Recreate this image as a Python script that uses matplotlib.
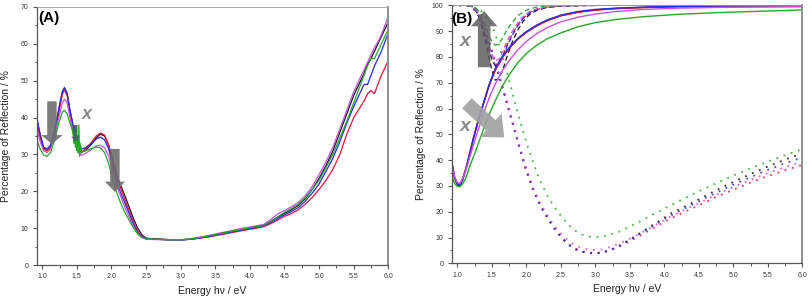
import matplotlib
matplotlib.use("Agg")
import matplotlib.pyplot as plt
from matplotlib.ticker import MultipleLocator

plt.rcParams["font.family"] = ["Liberation Sans", "DejaVu Sans"]

# ---------------------------------------------------------------------------
# Panel A: measured reflection spectra
# ---------------------------------------------------------------------------
xa = [0.92, 0.97, 1.02, 1.07, 1.12, 1.18, 1.24, 1.29, 1.32, 1.36,
      1.40, 1.43, 1.45, 1.46, 1.47, 1.48, 1.49, 1.50, 1.51, 1.52,
      1.53, 1.54, 1.55, 1.57, 1.62, 1.70, 1.78, 1.84, 1.90, 1.96,
      2.02, 2.08, 2.14, 2.20, 2.26, 2.32, 2.38, 2.44, 2.50, 2.60,
      2.75, 2.90, 3.05, 3.20, 3.40, 3.60, 3.80, 4.00, 4.20, 4.30,
      4.40, 4.50, 4.60, 4.70, 4.80, 4.90, 5.00, 5.10, 5.20, 5.30,
      5.40, 5.50, 5.60, 5.65, 5.70, 5.75, 5.80, 5.85, 5.90, 6.00]

ya_black = [40, 35, 31.8, 31, 32, 36, 42, 46.8, 48, 46.5,
            42, 39, 37, 35.5, 37, 34.5, 35.5, 33.5, 34.5, 32,
            33, 31, 31.5, 30.8, 31, 32.5, 34.5, 35.5, 35, 32.5,
            28.5, 24, 21.3, 18.5, 15.5, 12.5, 10, 8.2, 7.3, 7.1,
            7.0, 6.8, 6.9, 7.2, 7.8, 8.6, 9.3, 10.0, 10.8, 11.8,
            13.0, 14.0, 15.0, 16.2, 18.0, 20.5, 23.5, 27, 31, 36,
            41, 46, 50, 52, 54.5, 56, 58, 60, 62, 66]
ya_red = [39, 34.5, 31.5, 31, 32, 35.5, 41.5, 46.3, 47.5, 46,
          41.5, 38.5, 36.5, 35, 36, 34, 34.5, 33, 33.5, 31.5,
          32, 30.5, 31, 30.5, 31.5, 33, 35, 35.8, 35.3, 32.5,
          27.5, 23.3, 20.5, 17.5, 14.5, 11.5, 9.2, 7.8, 7.2, 7.0,
          6.9, 6.8, 6.9, 7.1, 7.6, 8.3, 9.0, 9.7, 10.4, 11.2,
          12.2, 13.2, 14.0, 15.0, 16.5, 18.3, 20.5, 23.0, 26.0, 30.0,
          35.5, 40, 43, 44.5, 46.5, 47.3, 46.5, 49, 51.5, 55.5]
ya_blue = [40, 35.5, 32, 31.5, 32.5, 36.5, 42.5, 47, 48.2, 46.5,
           42, 39.5, 37.5, 36, 37.5, 35, 36, 34, 35, 32.5,
           33.5, 31.5, 32, 31.5, 31.8, 32.8, 34.2, 34.7, 34, 31.5,
           26.5, 22.3, 19.3, 16.5, 13.8, 11, 8.8, 7.6, 7.1, 7.0,
           6.9, 6.7, 6.8, 7.1, 7.7, 8.5, 9.2, 9.9, 10.6, 11.5,
           12.6, 13.6, 14.5, 15.6, 17.3, 19.5, 22, 25.5, 29, 33.5,
           38.5, 43, 47, 49, 49, 51.5, 54, 56, 58, 63]
ya_magenta = [37, 33.5, 31, 30.5, 31.5, 35, 40, 44, 45, 44,
              40, 37.5, 35.5, 34, 35.5, 33, 34, 32, 33, 30.5,
              31.5, 29.5, 30.5, 29.8, 30.2, 31.2, 32.3, 32.5, 31.8, 29.5,
              25, 21.3, 18.3, 15.3, 12.8, 10.3, 8.4, 7.4, 7.0, 6.9,
              6.9, 6.8, 6.9, 7.3, 8.0, 8.8, 9.6, 10.3, 11.0, 12.3,
              13.8, 14.8, 15.8, 17.0, 18.8, 21.3, 24.5, 28, 32, 37,
              42, 47, 51, 53, 55, 57, 59, 60.5, 62.5, 67.5]
ya_green = [34, 31.5, 29.8, 29.5, 30.5, 34, 38.5, 41.5, 42, 41,
            38.5, 37, 35, 33, 36, 32, 37, 31, 35, 30.5,
            38, 30, 33, 30.5, 31, 31.5, 32, 31.8, 30.5, 27.5,
            23, 19.5, 16.5, 14, 12, 10, 8.5, 7.5, 7.1, 7.0,
            6.9, 6.8, 6.9, 7.2, 7.9, 8.7, 9.4, 10.1, 10.8, 11.8,
            13.0, 14.3, 15.3, 16.5, 18.3, 20.5, 23, 26.5, 30, 34.5,
            39, 44, 49, 51.5, 54, 56, 56, 58, 60, 64]

# ---------------------------------------------------------------------------
# Panel B: simulated reflection (solid / dashed / dotted families)
# ---------------------------------------------------------------------------
xb_solid = [0.92, 0.96, 1.00, 1.04, 1.08, 1.13, 1.18, 1.23, 1.30, 1.38,
            1.46, 1.55, 1.65, 1.75, 1.87, 2.00, 2.15, 2.30, 2.50, 2.75,
            3.00, 3.30, 3.70, 4.20, 4.80, 5.40, 6.00]
yb_solid_black = [39, 33, 30.5, 30, 32.5, 37, 42.5, 48, 55, 62,
                  69, 75, 79.8, 83.3, 86.8, 89.6, 92.1, 94.1, 96.0, 97.4,
                  98.2, 98.8, 99.2, 99.5, 99.7, 99.8, 99.9]
yb_solid_red = [39.5, 33.5, 31, 30.8, 33, 37.3, 42.5, 47.8, 54.8, 61.8,
                68.8, 74.8, 79.6, 83.2, 86.7, 89.5, 92.0, 94.0, 95.9, 97.3,
                98.1, 98.7, 99.1, 99.4, 99.6, 99.7, 99.8]
yb_solid_blue = [39.5, 33.5, 30.6, 30.2, 32.5, 37, 42.5, 48, 55, 62,
                 69, 75.5, 80, 83.5, 87, 89.8, 92.3, 94.3, 96.2, 97.6,
                 98.4, 98.9, 99.3, 99.6, 99.7, 99.8, 99.9]
yb_solid_magenta = [38, 33.5, 31.2, 31, 33, 36.5, 41, 45.5, 51.5, 58,
                    64, 69.5, 74.5, 78.5, 82.5, 86, 89, 91.3, 93.6, 95.4,
                    96.6, 97.6, 98.4, 98.9, 99.2, 99.3, 99.4]
yb_solid_green = [34, 31, 29.8, 29.7, 30.8, 33.5, 37.5, 41, 46, 52,
                  57.5, 63, 68.5, 73, 77.5, 81.3, 84.5, 87, 89.3, 91.7,
                  93.3, 94.5, 95.6, 96.5, 97.2, 97.7, 98.2]

xb_dash = [0.92, 1.10, 1.20, 1.26, 1.32, 1.38, 1.44, 1.50, 1.55, 1.60,
           1.66, 1.72, 1.80, 1.88, 1.96, 2.05, 2.15, 2.30, 2.50, 2.80,
           3.20, 4.00, 5.00, 6.00]
yb_dash_black = [100, 100, 99.8, 98.5, 95, 89, 82, 75, 71, 71.5,
                 75, 80, 86, 90.5, 94, 96.5, 98, 99.2, 99.7, 99.9,
                 100, 100, 100, 100]
yb_dash_red = [100, 100, 99.8, 98.8, 96, 91, 85, 79.5, 77, 77.5,
               80.5, 84.5, 89, 92.5, 95.2, 97.2, 98.4, 99.3, 99.7, 99.9,
               100, 100, 100, 100]
yb_dash_blue = [100, 100, 99.8, 98.7, 95.8, 90.5, 84.5, 79, 76.5, 77,
                80, 84, 88.5, 92.2, 95, 97, 98.3, 99.2, 99.7, 99.9,
                100, 100, 100, 100]
yb_dash_magenta = [100, 100, 99.8, 98.8, 96.2, 91.5, 86, 81, 78.5, 79,
                   82, 86, 90, 93.3, 95.8, 97.6, 98.6, 99.4, 99.8, 99.9,
                   100, 100, 100, 100]
yb_dash_green = [100, 100, 99.9, 99.2, 97.5, 94, 89.5, 86, 84.5, 85,
                 87.5, 90.5, 93.5, 96, 97.5, 98.6, 99.3, 99.7, 99.9, 100,
                 100, 100, 100, 100]

xb_dot = [0.92, 1.10, 1.20, 1.28, 1.36, 1.44, 1.52, 1.60, 1.70, 1.80,
          1.90, 2.00, 2.10, 2.20, 2.30, 2.40, 2.50, 2.60, 2.70, 2.80,
          2.90, 3.00, 3.10, 3.20, 3.35, 3.50, 3.70, 3.90, 4.10, 4.30,
          4.50, 4.75, 5.00, 5.25, 5.50, 5.75, 6.00]
yb_dot_black = [100, 100, 99.5, 97.5, 93.5, 87.5, 80.5, 73, 64, 54.5,
                45, 36, 28.5, 22.5, 18, 13.8, 10.3, 7.5, 5.6, 4.5,
                4.0, 3.9, 4.2, 5.0, 6.8, 9.2, 12.6, 16, 19.4, 22,
                24.8, 28.3, 31.5, 34.6, 37.5, 40.2, 42.6]
yb_dot_red = [100, 100, 99.5, 97.5, 93.5, 87.5, 80.5, 73, 64, 54.5,
              45, 36, 28.5, 22.5, 18, 13.8, 10.4, 7.7, 5.8, 4.7,
              4.2, 4.0, 4.2, 4.9, 6.5, 8.5, 11.5, 14.5, 17.5, 20,
              22.5, 25.7, 28.5, 31.3, 33.8, 36.1, 38.1]
yb_dot_blue = [100, 100, 99.5, 97.5, 93.5, 87.5, 80.5, 73, 64, 54.5,
               45, 36, 28.5, 22.5, 18, 13.8, 10.3, 7.5, 5.6, 4.5,
               4.0, 3.8, 4.1, 4.9, 6.8, 9.0, 12.3, 15.5, 18.6, 21.3,
               24, 27.3, 30.5, 33.4, 36.2, 38.8, 41]
yb_dot_magenta = [100, 100, 99.5, 97.8, 94, 88.5, 81.5, 74, 65, 55.5,
                  46, 37, 29.5, 23.5, 19, 14.8, 11.5, 9, 7.1, 6,
                  5.4, 5.2, 5.4, 6.2, 7.6, 9.5, 12.3, 15.2, 18.2, 20.8,
                  23.3, 26.5, 29.5, 32.3, 35, 37.3, 39.4]
yb_dot_green = [100, 100, 99.8, 98.8, 97.5, 95, 91, 85, 76, 66,
                56, 47, 39, 32, 26.5, 22, 18.5, 15.2, 12.8, 11.2,
                10.4, 10.1, 10.3, 10.9, 12.3, 14.2, 17, 19.8, 22.6, 25.3,
                27.9, 31, 34, 36.8, 39.4, 41.9, 44.2]

SERIES_ORDER = ["black", "red", "blue", "magenta", "green"]
COLORS = {
    "black":   "#151515",
    "red":     "#e5173f",
    "blue":    "#2a2ae0",
    "magenta": "#c94fe6",
    "green":   "#27a827",
}

ya_series = {"black": ya_black, "red": ya_red, "blue": ya_blue,
             "magenta": ya_magenta, "green": ya_green}
yb_solid = {"black": yb_solid_black, "red": yb_solid_red, "blue": yb_solid_blue,
            "magenta": yb_solid_magenta, "green": yb_solid_green}
yb_dash = {"black": yb_dash_black, "red": yb_dash_red, "blue": yb_dash_blue,
           "magenta": yb_dash_magenta, "green": yb_dash_green}
yb_dot = {"black": yb_dot_black, "red": yb_dot_red, "blue": yb_dot_blue,
          "magenta": yb_dot_magenta, "green": yb_dot_green}

TICK_COL = "#333333"
SPINE_COL = "#555555"


def style_axes(ax, ymax, ymajor, yminor):
    ax.set_xlim(0.92, 6.0)
    ax.set_ylim(0, ymax)
    ax.xaxis.set_major_locator(MultipleLocator(0.5))
    ax.xaxis.set_minor_locator(MultipleLocator(0.25))
    ax.yaxis.set_major_locator(MultipleLocator(ymajor))
    ax.yaxis.set_minor_locator(MultipleLocator(yminor))
    ax.xaxis.set_major_formatter(matplotlib.ticker.FormatStrFormatter("%.1f"))
    ax.tick_params(which="major", length=3, width=0.8, labelsize=5,
                   color=SPINE_COL, labelcolor=TICK_COL, pad=3)
    ax.tick_params(which="minor", length=1.8, width=0.7, color=SPINE_COL)
    for side in ("left", "bottom"):
        ax.spines[side].set_color(SPINE_COL)
        ax.spines[side].set_linewidth(0.9)
    ax.spines["top"].set_color("#9a9a9a")
    ax.spines["top"].set_linewidth(0.6)
    ax.spines["right"].set_color("#8a9090")
    ax.spines["right"].set_linewidth(1.4)
    ax.set_xlabel("Energy h\u03bd / eV", fontsize=7.5, color="#222222", labelpad=4)
    ax.set_ylabel("Percentage of Reflection / %", fontsize=7.5, color="#222222")
    ax.yaxis.set_label_coords(-0.072, 0.5)


def block_arrow(ax, tail, tip, color, alpha, tail_w, head_w, head_l):
    ax.annotate("", xy=tip, xytext=tail,
                arrowprops=dict(arrowstyle=f"simple,head_length={head_l},"
                                           f"head_width={head_w},tail_width={tail_w}",
                                color=color, alpha=alpha, lw=0,
                                shrinkA=0, shrinkB=0, mutation_scale=10),
                zorder=6)


fig = plt.figure(figsize=(8.1, 3.03), dpi=100)
ax_a = fig.add_axes([0.0453, 0.1254, 0.4341, 0.8515])
ax_b = fig.add_axes([0.5577, 0.131, 0.4328, 0.8515])

# --- (A) ---
for name in SERIES_ORDER:
    ax_a.plot(xa, ya_series[name], color=COLORS[name], lw=0.9)
style_axes(ax_a, 70, 10, 5)
block_arrow(ax_a, (1.14, 44.4), (1.14, 32.8), "#6e6e6e", 0.9, 0.68, 1.55, 0.65)
block_arrow(ax_a, (2.05, 31.5), (2.05, 19.8), "#6e6e6e", 0.9, 0.68, 1.45, 0.75)
block_arrow(ax_a, (1.48, 38.0), (1.48, 33.5), "#4a5a70", 0.9, 0.3, 0.6, 0.35)
ax_a.text(1.64, 40.8, "x", color="#8a8a8a", fontsize=13, fontweight="bold",
          fontstyle="italic", ha="center", va="center", zorder=7)
ax_a.text(0.005, 0.985, "(A)", transform=ax_a.transAxes, fontsize=11,
          fontweight="bold", ha="left", va="top")

# --- (B) ---
for name in SERIES_ORDER:
    ax_b.plot(xb_dot, yb_dot[name], color=COLORS[name], lw=1.3,
              linestyle=(0, (1, 3.2)), alpha=0.85)
for name in SERIES_ORDER:
    ax_b.plot(xb_dash, yb_dash[name], color=COLORS[name], lw=0.9,
              linestyle=(0, (4, 2.5)))
for name in SERIES_ORDER:
    ax_b.plot(xb_solid, yb_solid[name], color=COLORS[name], lw=1.0)
style_axes(ax_b, 100, 10, 5)
block_arrow(ax_b, (1.39, 76), (1.39, 97.8), "#5e5e5e", 0.85, 0.9, 1.9, 1.1)
block_arrow(ax_b, (1.14, 62), (1.68, 48.8), "#a0a0a0", 0.9, 1.0, 2.3, 1.3)
ax_b.text(1.11, 86, "x", color="#8a8a8a", fontsize=14, fontweight="bold",
          fontstyle="italic", ha="center", va="center", zorder=7)
ax_b.text(1.11, 53, "x", color="#8a8a8a", fontsize=14, fontweight="bold",
          fontstyle="italic", ha="center", va="center", zorder=7)
ax_b.text(-0.002, 0.975, "(B)", transform=ax_b.transAxes, fontsize=11,
          fontweight="bold", ha="left", va="top", zorder=8)

fig.savefig("out.png", dpi=100)
